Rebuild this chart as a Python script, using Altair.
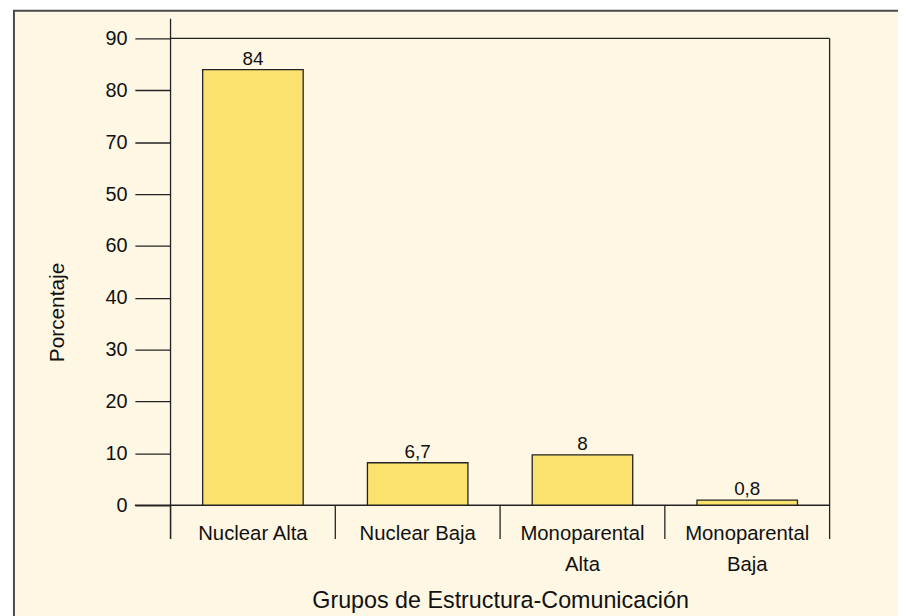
import altair as alt
import pandas as pd

categories = ["Nuclear Alta", "Nuclear Baja", "Monoparental\nAlta", "Monoparental\nBaja"]
bar_values = [84.0, 8.2, 9.7, 1.0]
bar_labels = ["84", "6,7", "8", "0,8"]
y_ticks = [0, 10, 20, 30, 40, 50, 60, 70, 80, 90]
y_tick_labels = ["0", "10", "20", "30", "40", "60", "50", "70", "80", "90"]

df = pd.DataFrame({"cat": categories, "val": bar_values, "lab": bar_labels})

W, H = 665, 471
CREAM = "#FEF7E4"
BAR = "#FBE26F"
LINE = "#222222"
SANS = "Liberation Sans, Arial, sans-serif"

label_expr = "[" + ",".join("'%s'" % s for s in y_tick_labels) + "][round(datum.value/10)]"

x_scale = alt.Scale(paddingInner=0, paddingOuter=0)
y_scale = alt.Scale(domain=[0, 90], nice=False)

x_axis = alt.Axis(labelExpr="split(datum.label, '\\n')", labelAngle=0,
                  bandPosition=0.5,
                  labelFont=SANS, labelFontSize=20.5, labelColor="#111",
                  labelLineHeight=31, labelPadding=19, labelBaseline="top",
                  ticks=False, domain=False, zindex=2,
                  titleFont=SANS, titleFontSize=23.5, titleFontWeight="normal",
                  titleColor="#111", titlePadding=14)

base = alt.Chart(df)

frame = alt.Chart(alt.Data(values=[{"a": 1}])).mark_rect(
    fill=CREAM, stroke="#4a4a4a", strokeWidth=2
).encode(x=alt.value(-158), x2=alt.value(W + 200), y=alt.value(-28), y2=alt.value(H + 300))

lines_df = alt.Data(values=[{"a": 1}])
left_line = alt.Chart(lines_df).mark_rule(color=LINE, strokeWidth=1.3).encode(
    x=alt.value(0), y=alt.value(-20), y2=alt.value(H + 34))
right_line = alt.Chart(lines_df).mark_rule(color=LINE, strokeWidth=1.3).encode(
    x=alt.value(W), y=alt.value(0), y2=alt.value(H + 34))
top_line = alt.Chart(lines_df).mark_rule(color=LINE, strokeWidth=1.3).encode(
    x=alt.value(0), x2=alt.value(W), y=alt.value(0))
bottom_line = alt.Chart(lines_df).mark_rule(color=LINE, strokeWidth=1.3).encode(
    x=alt.value(-36), x2=alt.value(W), y=alt.value(H))

separators = base.mark_rule(color=LINE, strokeWidth=1.3).encode(
    x=alt.X("cat:N", sort=categories, scale=x_scale, bandPosition=0,
            title="Grupos de Estructura-Comunicación", axis=x_axis),
    y=alt.value(H), y2=alt.value(H + 34))

bars = base.mark_bar(width={"band": 0.61}, fill=BAR, stroke=LINE, strokeWidth=1.3).encode(
    x=alt.X("cat:N", sort=categories, scale=x_scale,
            title="Grupos de Estructura-Comunicación", axis=x_axis),
    y=alt.Y("val:Q", scale=y_scale, title="Porcentaje",
            axis=alt.Axis(values=y_ticks, labelExpr=label_expr, grid=False, domain=False,
                          tickSize=36, tickColor=LINE, tickWidth=1.3, zindex=2,
                          labelFont=SANS, labelFontSize=20, labelColor="#111", labelPadding=8,
                          titleFont=SANS, titleFontSize=21, titleFontWeight="normal",
                          titleColor="#111", titleAngle=270, titleBaseline="alphabetic",
                          titleAlign="center", titleX=-108, titleY=276)),
)

texts = base.mark_text(font=SANS, fontSize=19, color="#111", baseline="alphabetic", dy=-5).encode(
    x=alt.X("cat:N", sort=categories, scale=x_scale),
    y=alt.Y("val:Q", scale=y_scale),
    text="lab:N",
)

chart = alt.layer(frame, left_line, right_line, top_line, bottom_line, separators, bars, texts).properties(
    width=W, height=H,
    padding={"left": 164, "top": 28, "right": 69, "bottom": 109},
    autosize=alt.AutoSizeParams(type="none"),
    background="#ffffff",
).configure_view(stroke=None)

chart.save("out.html", embed_options={"renderer": "svg", "actions": False})
